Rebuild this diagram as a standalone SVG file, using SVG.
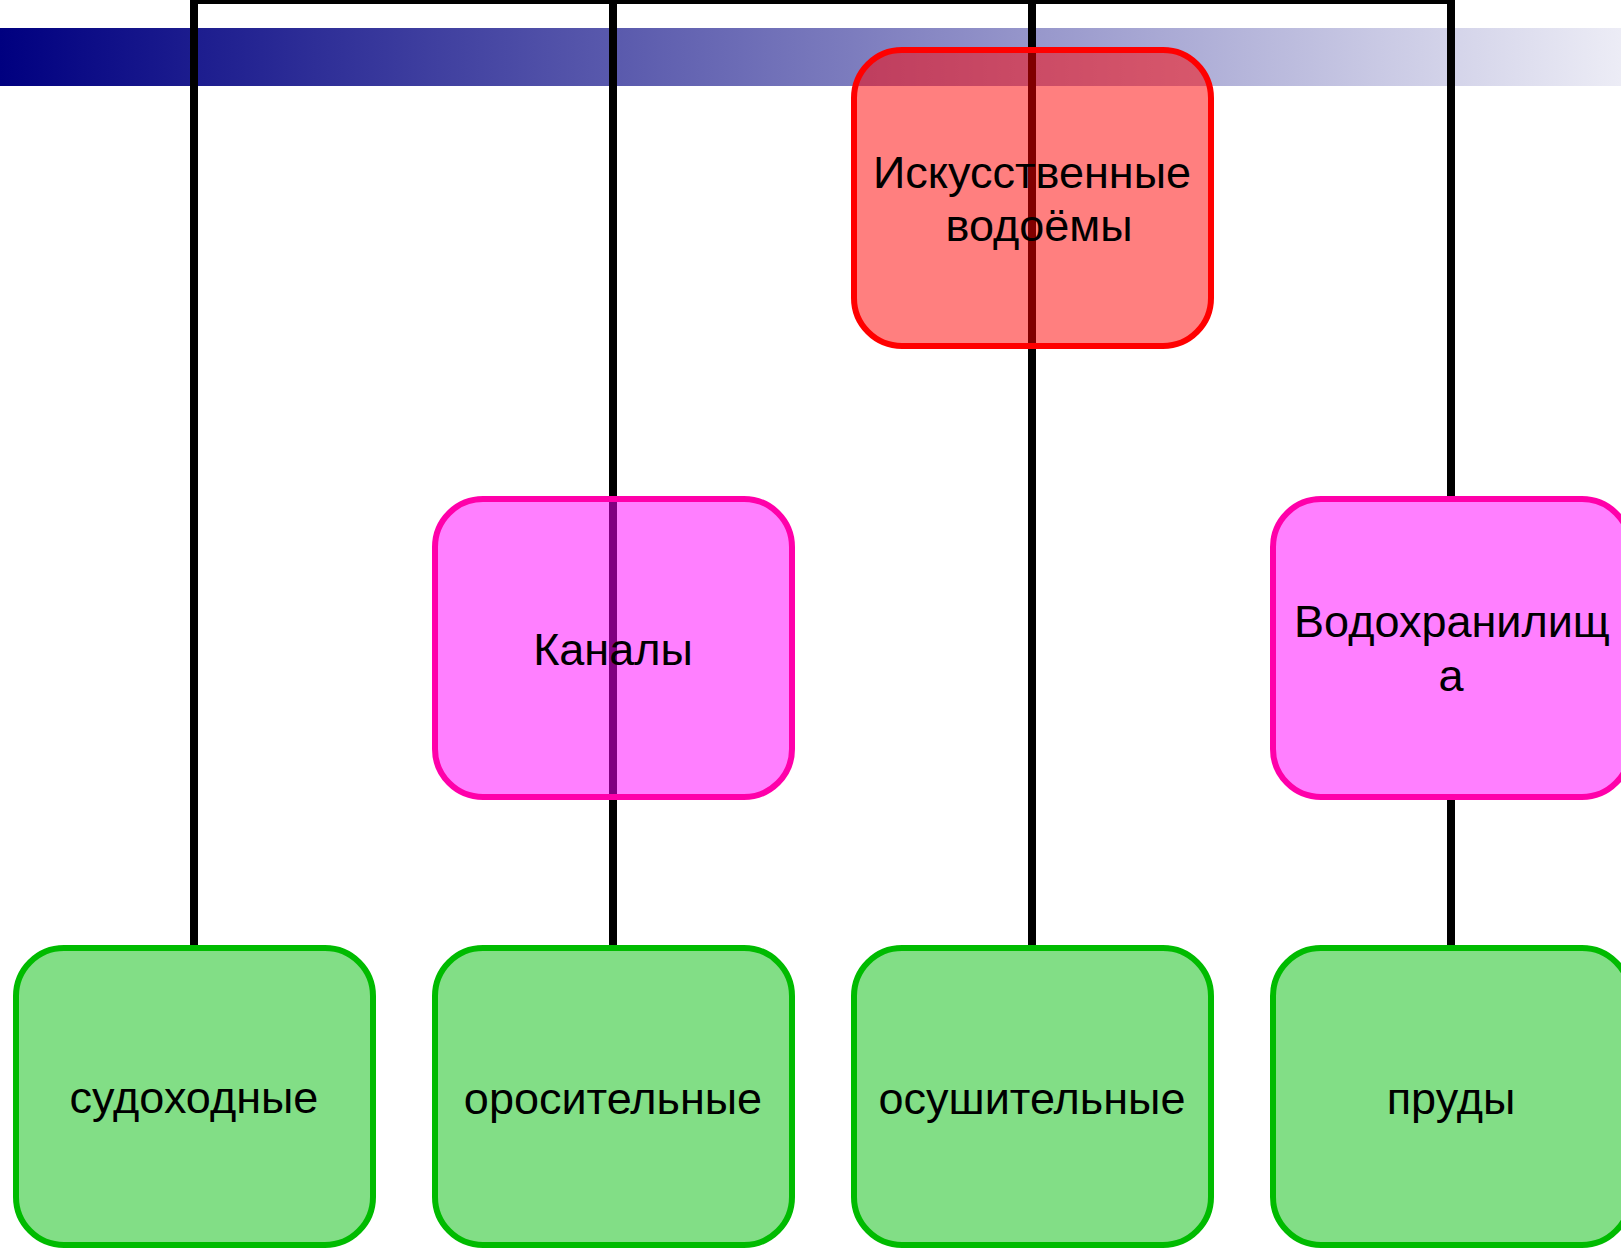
<svg xmlns="http://www.w3.org/2000/svg" width="1621" height="1249" viewBox="0 0 1621 1249">
<defs>
<linearGradient id="band" gradientUnits="userSpaceOnUse" x1="0" y1="0" x2="1750" y2="0">
<stop offset="0" stop-color="#000080"/>
<stop offset="1" stop-color="#ffffff"/>
</linearGradient>
<style>
.lbl{font-family:"Liberation Sans",Arial,sans-serif;font-size:45px;fill:#000;text-anchor:middle}
.box{stroke-width:6}
.root{fill:#ff0000;fill-opacity:0.5;stroke:#ff0000}
.mid{fill:#ff00ff;fill-opacity:0.5;stroke:#ff00aa}
.leaf{fill:#05bd0d;fill-opacity:0.5;stroke:#00bb00}
.conn{fill:none;stroke:#000;stroke-width:8}
</style>
</defs>
<rect width="1621" height="1249" fill="#fff"/>
<rect x="0" y="28" width="1621" height="58" fill="url(#band)"/>
<g id="connectors" class="conn">
<path d="M194,945 V0 H1451 V497"/>
<path d="M613,0 V945"/>
<path d="M1032,0 V945"/>
<path d="M1451,797 V945"/>
</g>
<g id="node-root">
<rect class="box root" x="854" y="50" width="357" height="296" rx="48"/>
<text class="lbl" x="1032" y="188">Искусственные</text>
<text class="lbl" x="1039" y="241">водоёмы</text>
</g>
<g id="node-kanaly">
<rect class="box mid" x="435" y="499" width="357" height="298" rx="48"/>
<text class="lbl" x="613" y="665">Каналы</text>
</g>
<g id="node-vodokhranilishcha">
<rect class="box mid" x="1273" y="499" width="357" height="298" rx="48"/>
<text class="lbl" x="1452" y="637">Водохранилищ</text>
<text class="lbl" x="1451" y="691">а</text>
</g>
<g id="node-sudokhodnye">
<rect class="box leaf" x="16" y="948" width="357" height="297" rx="48"/>
<text class="lbl" x="194" y="1113">судоходные</text>
</g>
<g id="node-orositelnye">
<rect class="box leaf" x="435" y="948" width="357" height="297" rx="48"/>
<text class="lbl" x="613" y="1114">оросительные</text>
</g>
<g id="node-osushitelnye">
<rect class="box leaf" x="854" y="948" width="357" height="297" rx="48"/>
<text class="lbl" x="1032" y="1114">осушительные</text>
</g>
<g id="node-prudy">
<rect class="box leaf" x="1273" y="948" width="357" height="297" rx="48"/>
<text class="lbl" x="1451" y="1114">пруды</text>
</g>
</svg>
